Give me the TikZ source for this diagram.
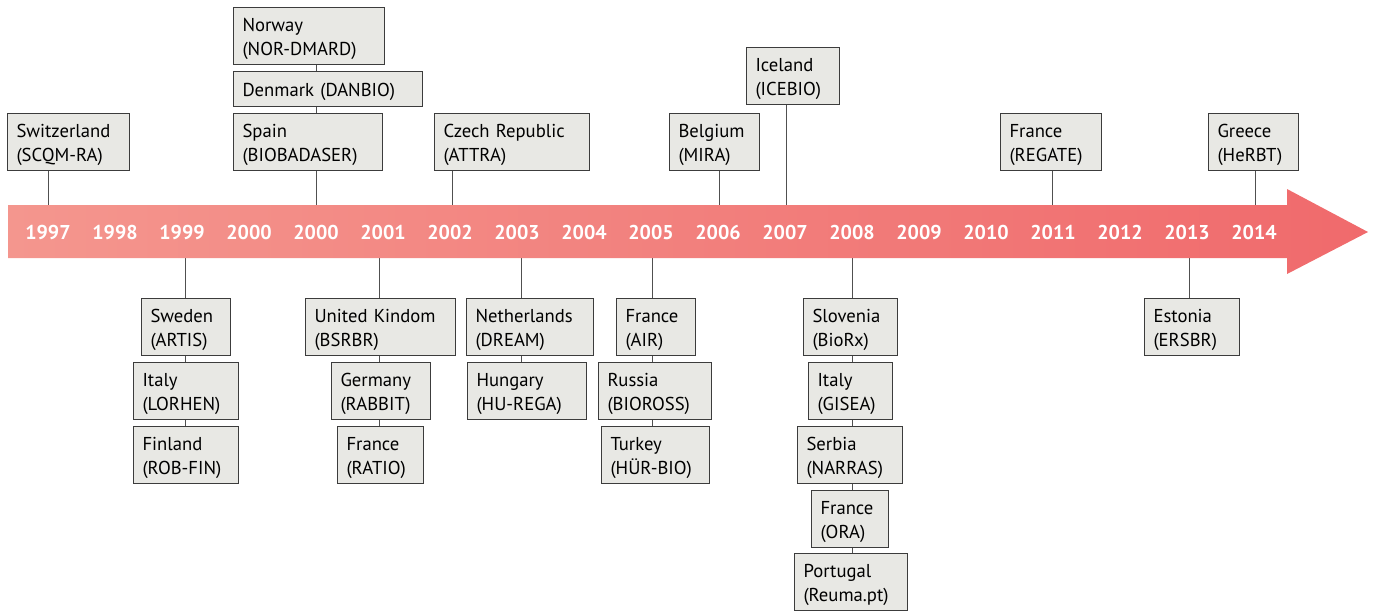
\documentclass[tikz,border=0pt]{standalone}
\usepackage{fontspec}
\setmainfont{PT Sans}
\usetikzlibrary{positioning,calc,backgrounds}
\newlength\px
\setlength\px{0.75pt}
\definecolor{bandL}{HTML}{F4968E}
\definecolor{bandR}{HTML}{F06A6C}
\definecolor{boxfill}{HTML}{E8E8E4}
\definecolor{boxline}{HTML}{3C3C3C}
\definecolor{connline}{HTML}{505050}
\tikzset{
	reg/.style={draw=boxline, fill=boxfill, line width=1\px, anchor=north west, align=left,
		inner xsep=9\px, inner ysep=0pt, minimum height=57\px,
		execute at begin node={\rule{0pt}{14pt}},
		font=\fontsize{14}{17.6}\selectfont},
	year/.style={text=white, font=\fontsize{15}{18}\selectfont\bfseries},
	conn/.style={draw=connline, line width=1\px}
}

\begin{document}
\begin{tikzpicture}[x=1\px, y=-1\px]
	\useasboundingbox (0,0) rectangle (1378,612);

	% timeline arrow
	\shade[left color=bandL, right color=bandR]
		(8,205) -- (1287,205) -- (1287,189) -- (1368,232) -- (1287,274) -- (1287,258) -- (8,258) -- cycle;
	\foreach \yr [count=\i from 0] in {1997,1998,1999,2000,2000,2001,2002,2003,2004,2005,2006,2007,2008,2009,2010,2011,2012,2013,2014}
		\node[year] (yr\i) at ({48+67*\i}, 232) {\yr};

	% points where the connectors meet the arrow
	\coordinate (t97) at (48, 205);
	\coordinate (t00) at (316, 205);
	\coordinate (t02) at (452, 205);
	\coordinate (t06) at (719, 205);
	\coordinate (t07) at (786, 205);
	\coordinate (t11) at (1052, 205);
	\coordinate (t14) at (1255, 205);
	\coordinate (b99) at (185, 258);
	\coordinate (b01) at (379, 258);
	\coordinate (b03) at (521, 258);
	\coordinate (b05) at (652, 258);
	\coordinate (b08) at (852, 258);
	\coordinate (b13) at (1189, 258);

	% registries above the arrow
	\node[reg, text width=104\px] (swi)   at (7, 113)    {Switzerland\\(SCQM-RA)};
	\node[reg, text width=133\px] (nor)   at (233, 7)    {Norway\\(NOR-DMARD)};
	\node[reg, text width=171\px, minimum height=35\px] (dan) at (233, 71) {Denmark (DANBIO)};
	\node[reg, text width=131\px] (spa)   at (233, 113)  {Spain\\(BIOBADASER)};
	\node[reg, text width=137\px] (cze)   at (434, 113)  {Czech Republic\\(ATTRA)};
	\node[reg, text width=72\px]  (bel)   at (669, 113)  {Belgium\\(MIRA)};
	\node[reg, text width=75\px]  (ice)   at (746, 47)   {Iceland\\(ICEBIO)};
	\node[reg, text width=83\px]  (fra11) at (1000, 113) {France\\(REGATE)};
	\node[reg, text width=72\px]  (gre)   at (1208, 113) {Greece\\(HeRBT)};

	% registries below the arrow
	\node[reg, text width=71\px]  (swe)   at (141, 298)  {Sweden\\(ARTIS)};
	\node[reg, text width=87\px]  (ita99) at (133, 362)  {Italy\\(LORHEN)};
	\node[reg, text width=87\px]  (fin)   at (133, 426)  {Finland\\(ROB-FIN)};
	\node[reg, text width=132\px] (uk)    at (305, 298)  {United Kindom\\(BSRBR)};
	\node[reg, text width=81\px]  (ger)   at (331, 362)  {Germany\\(RABBIT)};
	\node[reg, text width=68\px]  (fra01) at (337, 426)  {France\\(RATIO)};
	\node[reg, text width=109\px] (ned)   at (466, 298)  {Netherlands\\(DREAM)};
	\node[reg, text width=101\px] (hun)   at (467, 362)  {Hungary\\(HU-REGA)};
	\node[reg, text width=61\px]  (fra05) at (616, 298)  {France\\(AIR)};
	\node[reg, text width=95\px]  (rus)   at (598, 362)  {Russia\\(BIOROSS)};
	\node[reg, text width=90\px]  (tur)   at (601, 426)  {Turkey\\(HÜR-BIO)};
	\node[reg, text width=76\px]  (slo)   at (803, 298)  {Slovenia\\(BioRx)};
	\node[reg, text width=66\px]  (ita08) at (808, 362)  {Italy\\(GISEA)};
	\node[reg, text width=87\px]  (ser)   at (797, 426)  {Serbia\\(NARRAS)};
	\node[reg, text width=59\px]  (fra08) at (811, 490)  {France\\(ORA)};
	\node[reg, text width=95\px]  (por)   at (794, 553)  {Portugal\\(Reuma.pt)};
	\node[reg, text width=77\px]  (est)   at (1144, 298) {Estonia\\(ERSBR)};

	% connectors, behind the boxes
	\begin{pgfonlayer}{background}
		\draw[conn] (t97) -- (t97 |- swi.south);
		\draw[conn] (t00) -- (t00 |- nor.south);
		\draw[conn] (t02) -- (t02 |- cze.south);
		\draw[conn] (t06) -- (t06 |- bel.south);
		\draw[conn] (t07) -- (t07 |- ice.south);
		\draw[conn] (t11) -- (t11 |- fra11.south);
		\draw[conn] (t14) -- (t14 |- gre.south);
		\draw[conn] (b99) -- (b99 |- fin.north);
		\draw[conn] (b01) -- (b01 |- fra01.north);
		\draw[conn] (b03) -- (b03 |- hun.north);
		\draw[conn] (b05) -- (b05 |- tur.north);
		\draw[conn] (b08) -- (b08 |- por.north);
		\draw[conn] (b13) -- (b13 |- est.north);
	\end{pgfonlayer}
\end{tikzpicture}
\end{document}
